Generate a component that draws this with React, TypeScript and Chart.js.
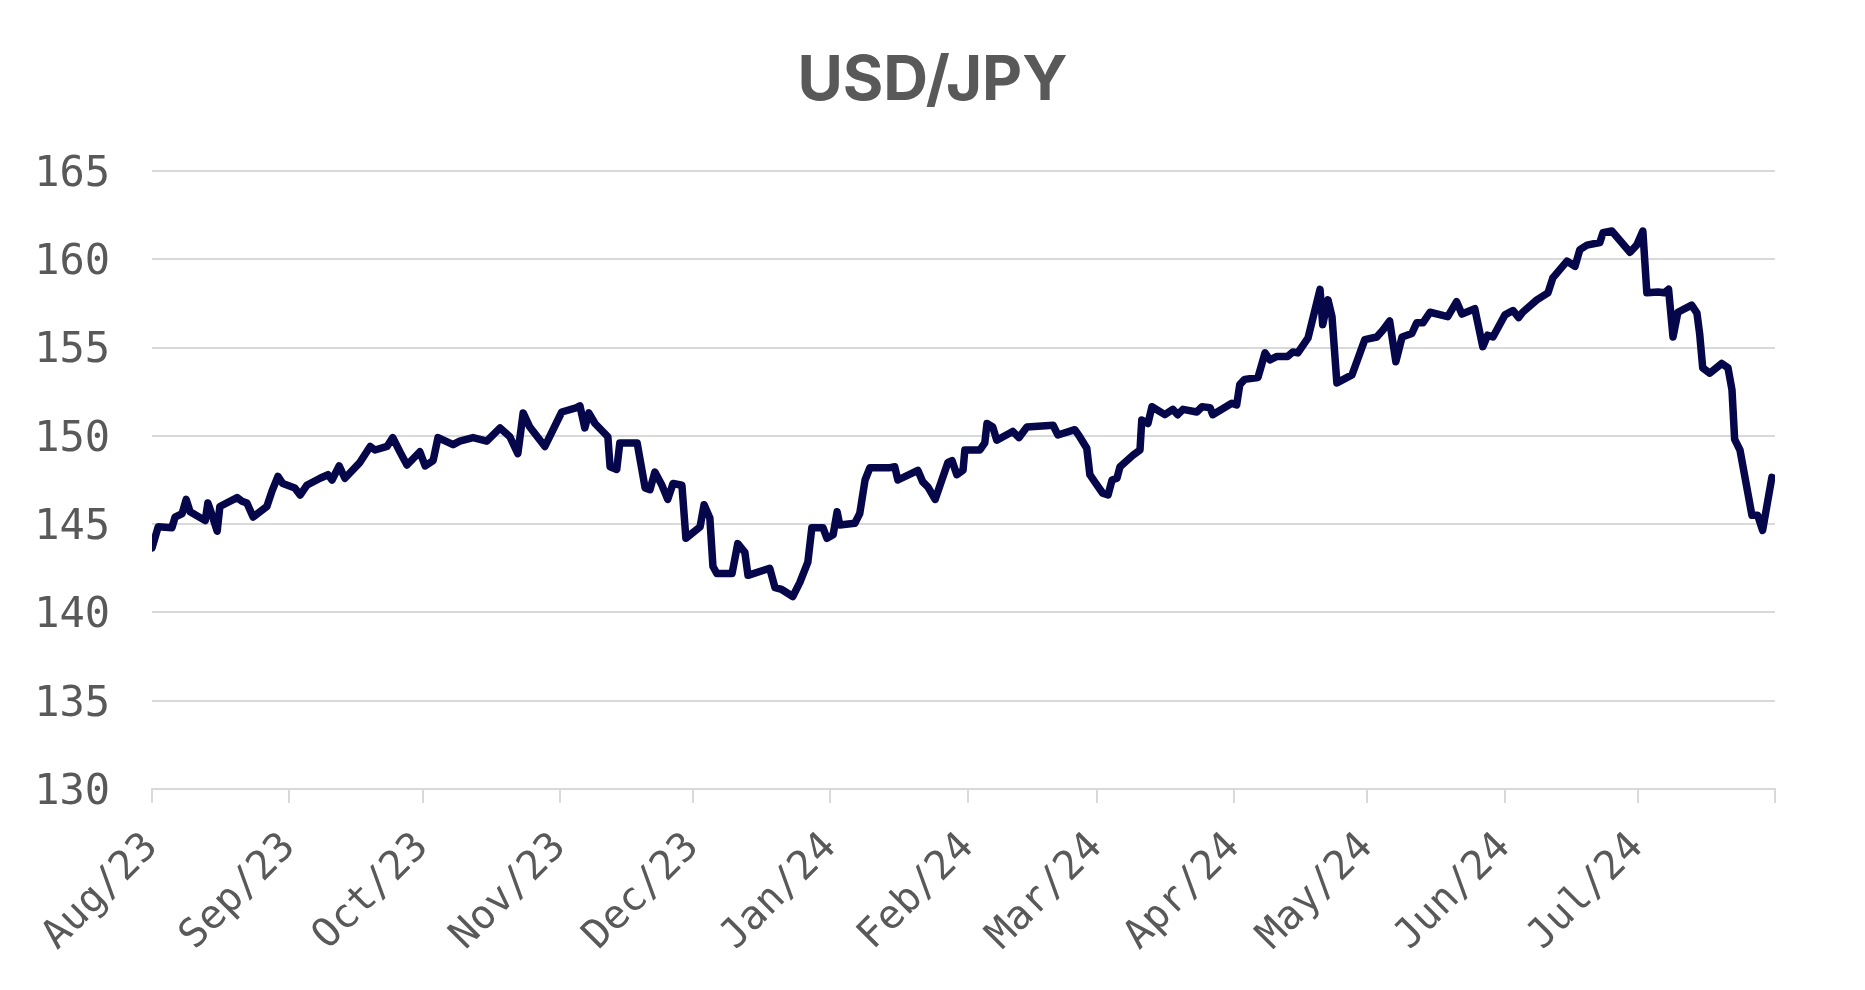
import React, { useEffect, useRef } from "react";
import { Chart, registerables } from "chart.js";

Chart.register(...registerables);

// Days since 2023-08-01 for each observation
const dayOffsets = [
  0, 1.4, 4.5, 5.2, 6.8, 7.7, 8.6, 12.0, 12.6, 13.3, 14.7, 15.3, 19.2, 20.3, 21.4, 22.8,
  25.9, 27.1, 28.4, 29.5, 32.2, 33.4, 34.9, 37.9, 39.7, 40.6, 42.2, 43.5, 46.9, 49.2, 50.3,
  53.0, 54.3, 55.9, 57.5, 60.4, 61.6, 63.4, 64.5, 67.9, 69.4, 72.4, 75.5, 78.5, 80.7, 82.5,
  83.7, 85.2, 88.6, 92.4, 95.8, 96.5, 97.6, 98.5, 99.9, 102.8, 103.3, 104.8, 105.5, 109.4,
  111.2, 112.3, 113.4, 115.0, 116.3, 117.5, 119.5, 120.4, 123.6, 124.5, 125.8, 126.5, 127.4,
  130.8, 132.1, 133.7, 134.4, 139.3, 140.5, 142.0, 144.5, 146.1, 147.9, 148.8, 151.3, 152.2,
  153.6, 154.5, 155.1, 158.5, 159.6, 160.8, 161.9, 166.4, 167.5, 168.2, 172.7, 173.8, 175.0,
  176.6, 179.5, 180.4, 181.5, 182.9, 183.3, 186.7, 187.8, 188.3, 189.6, 190.5, 194.1, 195.5,
  197.3, 203.2, 204.3, 208.1, 209.2, 210.8, 211.5, 212.6, 214.4, 215.6, 216.5, 217.6, 218.3,
  221.2, 222.8, 223.2, 224.6, 225.5, 228.4, 230.2, 231.3, 232.5, 235.6, 236.8, 238.6, 239.2,
  243.5, 244.6, 245.3, 246.4, 249.4, 251.0, 252.1, 253.7, 256.1, 257.3, 258.4, 260.7, 263.4,
  264.0, 265.2, 266.1, 267.2, 270.6, 273.5, 276.2, 277.6, 279.1, 280.5, 281.9, 284.1, 285.2,
  286.6, 288.2, 292.2, 294.2, 295.4, 298.3, 300.1, 301.2, 302.4, 305.1, 306.9, 308.2, 309.1,
  312.3, 314.8, 315.9, 319.1, 320.9, 322.0, 323.6, 326.5, 327.2, 329.2, 333.3, 334.8, 336.2,
  337.1, 339.6, 341.1, 342.0, 343.0, 344.1, 347.2, 348.4, 349.0, 349.7, 351.3, 354.0, 355.4,
  356.3, 356.9, 358.1, 360.8, 362.1, 363.2, 365.3,
];

const usdJpy = [
  143.65, 144.85, 144.8, 145.4, 145.6, 146.4, 145.7, 145.2, 146.2, 145.7, 144.6, 146.0, 146.5, 146.3, 146.2, 145.4,
  146.0, 146.9, 147.7, 147.3, 147.05, 146.65, 147.2, 147.6, 147.8, 147.5, 148.3, 147.6, 148.5, 149.4, 149.2,
  149.4, 149.9, 149.1, 148.35, 149.1, 148.3, 148.6, 149.9, 149.5, 149.7, 149.9, 149.7, 150.45, 149.95, 149.0,
  151.3, 150.5, 149.4, 151.35, 151.6, 151.7, 150.45, 151.3, 150.7, 149.95, 148.25, 148.1, 149.6, 149.6,
  147.05, 146.95, 147.95, 147.2, 146.4, 147.3, 147.2, 144.2, 144.85, 146.1, 145.35, 142.6, 142.2,
  142.2, 143.9, 143.4, 142.1, 142.5, 141.4, 141.3, 140.9, 141.7, 142.85, 144.8, 144.8, 144.2,
  144.4, 145.7, 144.95, 145.05, 145.6, 147.5, 148.2, 148.2, 148.25, 147.5, 148.05, 147.4, 147.1,
  146.4, 148.5, 148.6, 147.8, 148.05, 149.2, 149.2, 149.6, 150.7, 150.5, 149.75, 150.25, 149.9,
  150.5, 150.6, 150.05, 150.35, 149.95, 149.3, 147.8, 147.4, 146.75, 146.65, 147.5, 147.6, 148.25,
  148.9, 149.2, 150.9, 150.7, 151.65, 151.2, 151.5, 151.2, 151.5, 151.35, 151.65, 151.6, 151.2,
  151.85, 151.75, 152.9, 153.2, 153.3, 154.7, 154.3, 154.5, 154.5, 154.75, 154.7, 155.55, 158.3,
  156.3, 157.7, 156.75, 153.0, 153.45, 155.45, 155.6, 156.0, 156.5, 154.2, 155.6, 155.8, 156.4,
  156.4, 157.0, 156.75, 157.6, 156.9, 157.2, 155.05, 155.7, 155.6, 156.85, 157.1, 156.7, 157.0,
  157.7, 158.1, 158.95, 159.9, 159.6, 160.55, 160.8, 160.95, 161.5, 161.6, 160.4, 160.8, 161.6,
  158.1, 158.15, 158.1, 158.3, 155.6, 157.0, 157.4, 156.95, 155.8, 153.85, 153.55, 154.1, 153.85,
  152.6, 149.8, 149.2, 145.5, 145.5, 144.65, 147.65,
];

// Month boundaries (days since 2023-08-01) and their labels
const monthTickDays = [0, 31, 61, 92, 122, 153, 184, 213, 244, 274, 305, 335, 366];
const monthTickLabels = [
  "Aug/23", "Sep/23", "Oct/23", "Nov/23", "Dec/23", "Jan/24", "Feb/24",
  "Mar/24", "Apr/24", "May/24", "Jun/24", "Jul/24", "",
];

const yTicks = [130, 135, 140, 145, 150, 155, 160, 165];

const GRID = "#d9d9d9";
const TEXT = "#595959";
const MONO = "'DejaVu Sans Mono', monospace";

export default function App() {
  const canvasRef = useRef<HTMLCanvasElement | null>(null);

  useEffect(() => {
    const canvas = canvasRef.current;
    if (!canvas) return;
    const points = dayOffsets.map((d, i) => ({ x: d, y: usdJpy[i] }));
    const chart = new Chart(canvas, {
      type: "line",
      data: {
        datasets: [
          {
            label: "USD/JPY",
            data: points,
            borderColor: "#06064a",
            borderWidth: 7.5,
            pointRadius: 0,
            tension: 0,
            borderJoinStyle: "round",
            borderCapStyle: "round",
            fill: false,
          },
        ],
      },
      options: {
        animation: false,
        responsive: false,
        devicePixelRatio: 1,
        parsing: false,
        layout: { padding: 0 },
        plugins: {
          legend: { display: false },
          tooltip: { enabled: false },
          title: {
            display: true,
            text: "USD/JPY",
            color: TEXT,
            font: { family: "Inter, Roboto, sans-serif", size: 62, weight: "bold", lineHeight: 1.2 },
            padding: { top: 44, bottom: 52.6 },
          },
        },
        scales: {
          x: {
            type: "linear",
            min: monthTickDays[0],
            max: monthTickDays[monthTickDays.length - 1],
            afterBuildTicks: (scale: any) => {
              scale.ticks = monthTickDays.map((v) => ({ value: v }));
            },
            afterFit: (scale: any) => {
              scale.height = 201;
              scale.paddingRight = 90;
            },
            ticks: {
              autoSkip: false,
              minRotation: 45,
              maxRotation: 45,
              padding: 21,
              color: TEXT,
              font: { family: MONO, size: 40 },
              callback: (value: any) => {
                const i = monthTickDays.indexOf(Number(value));
                return i >= 0 ? monthTickLabels[i] : "";
              },
            },
            grid: {
              drawOnChartArea: false,
              drawTicks: true,
              tickLength: 14,
              color: GRID,
              lineWidth: 2,
            },
            border: { display: true, color: GRID, width: 2 },
          },
          y: {
            type: "linear",
            min: yTicks[0],
            max: yTicks[yTicks.length - 1],
            afterBuildTicks: (scale: any) => {
              scale.ticks = yTicks.map((v) => ({ value: v }));
            },
            afterFit: (scale: any) => {
              scale.width = 152;
            },
            ticks: {
              padding: 42,
              labelOffset: 4,
              color: TEXT,
              font: { family: MONO, size: 42 },
            },
            grid: {
              drawTicks: false,
              color: GRID,
              lineWidth: 2,
            },
            border: { display: false },
          },
        },
      },
    });
    return () => chart.destroy();
  }, []);

  return (
    <div style={{ position: "fixed", left: 0, top: 0, width: 1865, height: 990, background: "#fff" }}>
      <canvas ref={canvasRef} width={1865} height={990} style={{ width: 1865, height: 990, display: "block" }} />
    </div>
  );
}
